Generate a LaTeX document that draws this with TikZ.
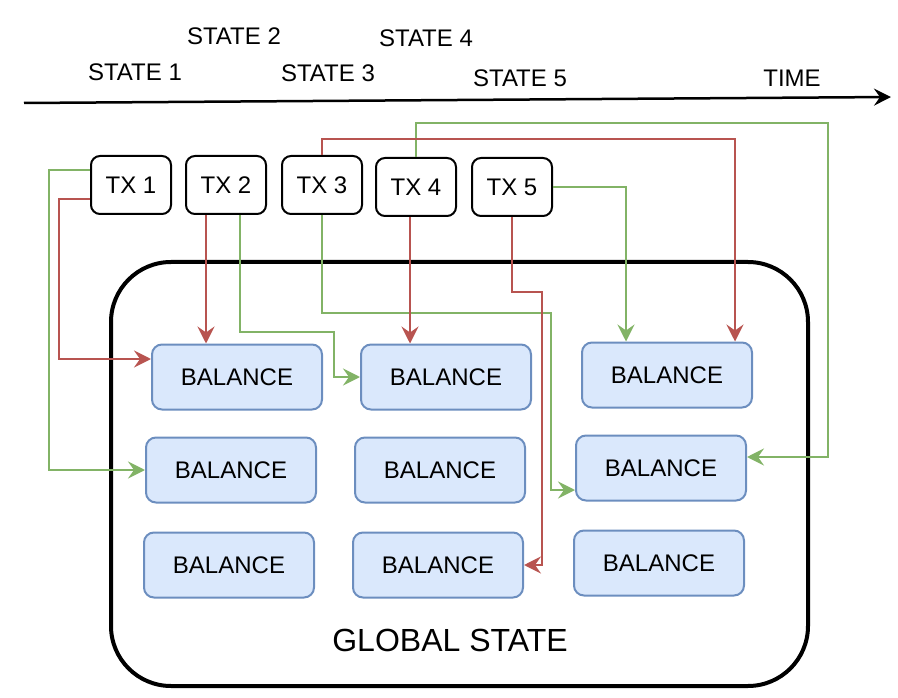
\documentclass[tikz,border=0pt]{standalone}
\usepackage{fontspec}
\setmainfont{Liberation Sans}
\usetikzlibrary{arrows.meta}
\definecolor{redc}{HTML}{B85450}
\definecolor{greenc}{HTML}{82B366}
\definecolor{balfill}{HTML}{DAE8FC}
\definecolor{baldraw}{HTML}{6C8EBF}
\begin{document}
\begin{tikzpicture}[x=1pt,y=-1pt,
  lbl/.style={font=\fontsize{24}{28}\selectfont, inner sep=0pt},
  txbox/.style={draw=black, fill=white, line width=2pt, rounded corners=9pt,
    minimum width=80pt, minimum height=58pt, inner sep=0pt, font=\fontsize{24}{28}\selectfont},
  balbox/.style={draw=baldraw, fill=balfill, line width=2pt, rounded corners=10pt,
    minimum width=170pt, minimum height=65pt, inner sep=0pt, font=\fontsize{24}{28}\selectfont},
  gsbox/.style={draw=black, line width=4pt, rounded corners=60pt,
    minimum width=697pt, minimum height=424pt, inner sep=0pt},
  tipc/.style={-{Stealth[length=17pt,width=17pt,inset=6pt]}},
  rline/.style={draw=redc, line width=2pt, tipc},
  gline/.style={draw=greenc, line width=2pt, tipc},
  timeline/.style={draw=black, line width=2.5pt, -{Stealth[length=17pt,width=17pt,inset=6pt]}}
]
\useasboundingbox (0,0) rectangle (898,698);

% time axis
\coordinate (t0) at (24,103);
\coordinate (t1) at (891,97);
\draw[timeline] (t0) -- (t1);
\node[lbl] (s1) at (135,72) {STATE 1};
\node[lbl] (s2) at (234,36) {STATE 2};
\node[lbl] (s3) at (328,73) {STATE 3};
\node[lbl] (s4) at (426,38) {STATE 4};
\node[lbl] (s5) at (520,78) {STATE 5};
\node[lbl] (time) at (792,78) {TIME};

% global state
\node[gsbox] (gs) at (459.5,474) {};
\node[font=\fontsize{32}{38}\selectfont, inner sep=0pt] (gsl) at (450,640) {GLOBAL STATE};

% transactions
\node[txbox] (tx1) at (131,185) {TX 1};
\node[txbox] (tx2) at (226,185) {TX 2};
\node[txbox] (tx3) at (322,185) {TX 3};
\node[txbox] (tx4) at (416,187) {TX 4};
\node[txbox] (tx5) at (512,187) {TX 5};

% balances
\node[balbox] (b11) at (237,377) {BALANCE};
\node[balbox] (b12) at (446,377) {BALANCE};
\node[balbox] (b13) at (667,375) {BALANCE};
\node[balbox] (b21) at (231,470) {BALANCE};
\node[balbox] (b22) at (440,470) {BALANCE};
\node[balbox] (b23) at (661,468) {BALANCE};
\node[balbox] (b31) at (229,565) {BALANCE};
\node[balbox] (b32) at (438,565) {BALANCE};
\node[balbox] (b33) at (659,563) {BALANCE};

% green connectors
\draw[gline] ([yshift=15pt]tx1.west) -- (49,170) |- (b21.west);
\draw[gline] ([xshift=14pt]tx2.south) |- (334,332) |- (b12.west);
\draw[gline] (tx3.south) |- (551,313) |- ([yshift=-22pt]b23.west);
\draw[gline] (tx4.north) |- (828,123) |- ([yshift=11pt]b23.east);
\draw[gline] (tx5.east) -| ([xshift=-41pt]b13.north);

% red connectors
\draw[rline] ([yshift=-14pt]tx1.west) -- (59,199) |- ([yshift=18pt]b11.west);
\draw[rline] ([xshift=-20pt]tx2.south) -- ([xshift=-20pt]tx2.south |- b11.north);
\draw[rline] (tx3.north) |- (735,139) -- ([xshift=68pt]b13.north);
\draw[rline] ([xshift=-6pt]tx4.south) -- ([xshift=-6pt]tx4.south |- b12.north);
\draw[rline] (tx5.south) |- (542,292) |- (b32.east);
\end{tikzpicture}
\end{document}
